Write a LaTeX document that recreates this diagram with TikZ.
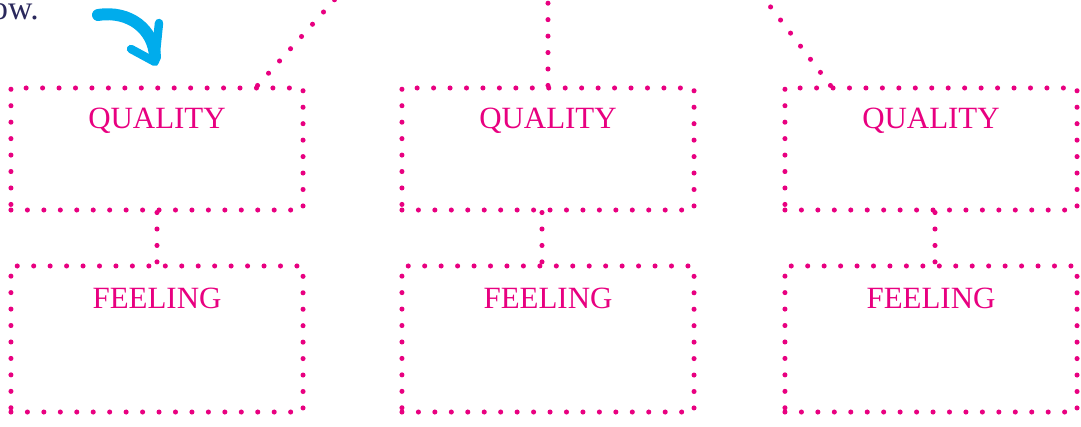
\documentclass[tikz,border=0pt]{standalone}
\usepackage{fontspec}
\setmainfont{Liberation Serif}
\usepackage{tikz}
\usetikzlibrary{positioning}
\definecolor{hotpink}{RGB}{232,0,128}
\definecolor{skyblue}{RGB}{0,172,236}
\definecolor{inknavy}{RGB}{42,40,92}

\begin{document}
\begin{tikzpicture}[x=0.025cm, y=-0.025cm,
  dots/.style={draw=hotpink, line width=3.6pt, line cap=round, dash pattern=on 0pt off 11.7pt},
  box/.style={dots, minimum width=7.3cm, inner sep=0pt},
  qbox/.style={box, minimum height=3.05cm},
  fbox/.style={box, minimum height=3.65cm},
  lbl/.style={text=hotpink, font=\fontsize{22}{24}\selectfont, anchor=north, inner sep=0pt}]
  \useasboundingbox (0,0) rectangle (1081,427);
  \node[anchor=base east, text=inknavy, font=\fontsize{24}{26}\selectfont, inner sep=0pt] (hint) at (39,20) {ow.};
  % boxes
  \node[qbox] (q1) at (157,149) {};
  \node[qbox] (q2) at (548,149) {};
  \node[qbox] (q3) at (931,149) {};
  \node[fbox] (f1) at (157,339) {};
  \node[fbox] (f2) at (548,339) {};
  \node[fbox] (f3) at (931,339) {};
  \foreach \i in {1,2,3} {
    \node[lbl] (ql\i) at ([yshift=-0.55cm]q\i.north) {QUALITY};
    \node[lbl] (fl\i) at ([yshift=-0.6cm]f\i.north) {FEELING};
  }
  \draw[dots] (q1.south) -- (f1.north);
  \draw[dots] ([xshift=-0.15cm]q2.south) -- ([xshift=-0.15cm]f2.north);
  \draw[dots] ([xshift=0.1cm]q3.south) -- ([xshift=0.1cm]f3.north);
  % links to the top
  \coordinate (top1) at (337,-3);
  \coordinate (top2) at (548,-3);
  \coordinate (top3) at (763,-3);
  \draw[dots] ([xshift=-1.2cm]q1.north east) -- (top1);
  \draw[dots] (q2.north) -- (top2);
  \draw[dots] ([xshift=1.2cm]q3.north west) -- (top3);
  % hand drawn arrow
  \draw[skyblue, line width=8.5pt, line cap=round] (98,15) .. controls (130,10) and (154,30) .. (155,57);
  \draw[skyblue, line width=6pt, line cap=round, line join=round] (131,49) -- (155,62) -- (159,23);
\end{tikzpicture}
\end{document}
